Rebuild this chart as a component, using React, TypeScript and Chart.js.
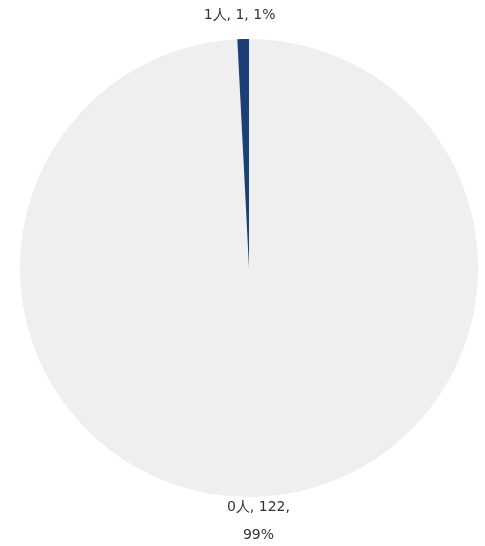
import React, { useEffect, useRef } from "react";
import { Chart, registerables } from "chart.js";

Chart.register(...registerables);

const categories = ["0人", "1人"];
const counts = [122, 1];
const percents = [99, 1];
const colors = ["#efefef", "#1c3f75"];

const labelPlugin = {
  id: "outerLabels",
  afterDraw(chart: any) {
    const ctx = chart.ctx;
    const meta = chart.getDatasetMeta(0);
    ctx.save();
    ctx.font = "14px 'DejaVu Sans', Verdana, sans-serif";
    ctx.fillStyle = "#333333";
    ctx.textAlign = "center";
    ctx.textBaseline = "middle";
    meta.data.forEach((arc: any, i: number) => {
      const { x, y, startAngle, endAngle, outerRadius } = arc.getProps(
        ["x", "y", "startAngle", "endAngle", "outerRadius"],
        true
      );
      const mid = (startAngle + endAngle) / 2;
      const text = `${categories[i]}, ${counts[i]}, ${percents[i]}%`;
      const maxW = 90;
      const words = text.split(" ");
      const lines: string[] = [];
      let cur = "";
      words.forEach((w) => {
        const t = cur ? cur + " " + w : w;
        if (ctx.measureText(t).width > maxW && cur) {
          lines.push(cur);
          cur = w;
        } else cur = t;
      });
      if (cur) lines.push(cur);
      const lh = 28;
      const lx = x + Math.cos(mid) * 370;
      const cy = y + Math.sin(mid) * (outerRadius + 24);
      lines.forEach((l, k) => {
        ctx.fillText(l, lx, cy + (k - (lines.length - 1) / 2) * lh);
      });
    });
    ctx.restore();
  },
};

export default function App() {
  const ref = useRef<HTMLCanvasElement>(null);
  useEffect(() => {
    const chart = new Chart(ref.current!, {
      type: "pie",
      data: {
        labels: categories,
        datasets: [
          {
            data: counts,
            backgroundColor: colors,
            borderWidth: 0,
          },
        ],
      },
      options: {
        animation: false,
        responsive: false,
        maintainAspectRatio: false,
        layout: { padding: { top: 39, bottom: 49, left: 20, right: 7 } },
        plugins: { legend: { display: false }, tooltip: { enabled: false } },
      },
      plugins: [labelPlugin],
    });
    return () => chart.destroy();
  }, []);
  return (
    <div style={{ position: "absolute", left: 0, top: 0, width: 485, height: 546, background: "#fff" }}>
      <canvas ref={ref} width={485} height={546} />
    </div>
  );
}
